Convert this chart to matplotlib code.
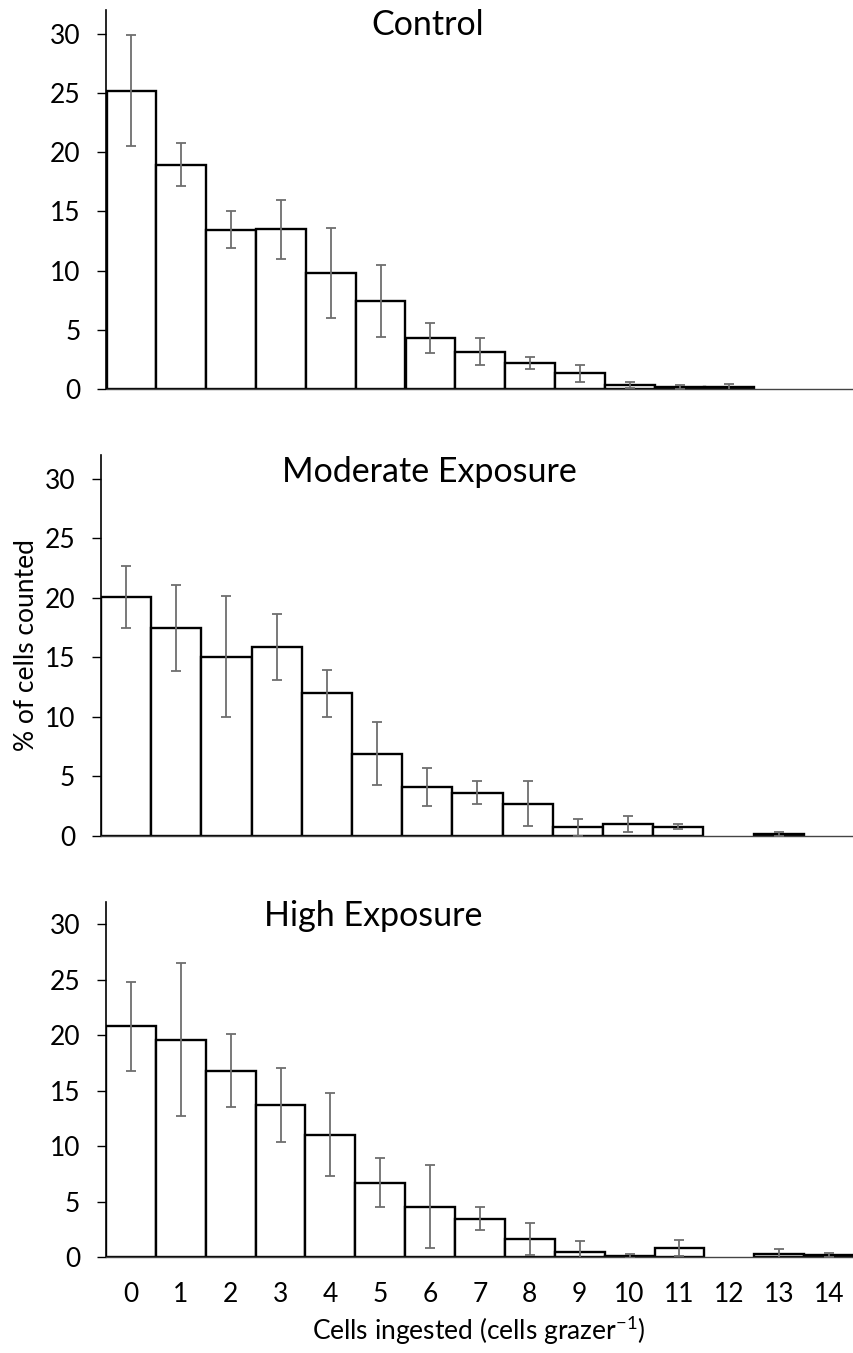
import matplotlib
matplotlib.use("Agg")
import matplotlib.pyplot as plt
import numpy as np

plt.rcParams['font.family'] = ['Lato', 'DejaVu Sans']
plt.rcParams['mathtext.fontset'] = 'custom'
plt.rcParams['mathtext.rm'] = 'Lato'

# cells ingested per grazer (x categories)
cells = np.arange(15)
tick_labels = [str(c) for c in cells]

control = [25.2, 18.95, 13.45, 13.5, 9.8, 7.44, 4.32, 3.15, 2.17, 1.32, 0.34, 0.17, 0.15, 0, 0]
control_err = [4.65, 1.85, 1.55, 2.5, 3.8, 3.07, 1.26, 1.15, 0.49, 0.74, 0.28, 0.13, 0.3, 0, 0]

moderate = [20.1, 17.5, 15.07, 15.86, 12.0, 6.92, 4.12, 3.64, 2.71, 0.73, 1.0, 0.78, 0, 0.2, 0]
moderate_err = [2.6, 3.6, 5.1, 2.78, 1.97, 2.67, 1.57, 0.97, 1.91, 0.7, 0.64, 0.21, 0, 0.16, 0]

high = [20.8, 19.6, 16.8, 13.7, 11.02, 6.7, 4.52, 3.47, 1.59, 0.42, 0.12, 0.81, 0, 0.27, 0.18]
high_err = [4.0, 6.9, 3.3, 3.36, 3.76, 2.2, 3.73, 1.0, 1.43, 1.0, 0.18, 0.71, 0, 0.45, 0.18]

titles = ['Control', 'Moderate Exposure', 'High Exposure']

W, H = 854, 1353
fig = plt.figure(figsize=(W / 100, H / 100), dpi=100)

# pixel boxes (left, right, top, bottom)
caixas = [(106.5, 854, 10, 389), (101, 854, 455, 836), (106, 854, 902, 1257)]
titulo_pos = [(428, 35), (429, 482), (373, 926)]

series = [(control, control_err), (moderate, moderate_err), (high, high_err)]

axes = []
for i, (valores, erros) in enumerate(series):
    l, r, t, b = caixas[i]
    ax = fig.add_axes([l / W, 1 - b / H, (r - l) / W, (b - t) / H])
    axes.append(ax)

    valores = np.array(valores)
    erros = np.array(erros)
    mask = valores > 0

    ax.bar(cells[mask], valores[mask], width=1.0, color='white',
           edgecolor='black', linewidth=1.7, zorder=2)
    ax.errorbar(cells[mask], valores[mask], yerr=erros[mask], fmt='none',
                ecolor='#6e6e6e', elinewidth=1.3, capsize=3.6, capthick=1.3,
                zorder=3)

    ax.set_xlim(-0.5, 14.5)
    ax.set_ylim(0, 32)
    ax.set_yticks([0, 5, 10, 15, 20, 25, 30])
    ax.tick_params(axis='y', direction='out', length=6.5, width=1,
                   labelsize=19, pad=12)

    for s in ['top', 'right']:
        ax.spines[s].set_visible(False)
    ax.spines['left'].set_linewidth(1.2)
    ax.spines['bottom'].set_linewidth(1.0)
    ax.spines['bottom'].set_color('#444444')

    if i < 2:
        ax.set_xticks([])
    else:
        ax.set_xticks(cells)
        ax.set_xticklabels(tick_labels)
        ax.tick_params(axis='x', length=0, labelsize=19, pad=18)

    tx, ty = titulo_pos[i]
    fig.text(tx / W, 1 - ty / H, titles[i], fontsize=24.5, ha='center',
             va='baseline')

fig.text(27 / W, 1 - 645 / H, '% of cells counted', rotation=90,
         fontsize=19, ha='center', va='center')
fig.text(479 / W, 1 - 1340 / H, r'Cells ingested (cells grazer$^{\mathregular{-1}}$)',
         fontsize=19, ha='center', va='baseline')

plt.savefig("out.png", dpi=100)
